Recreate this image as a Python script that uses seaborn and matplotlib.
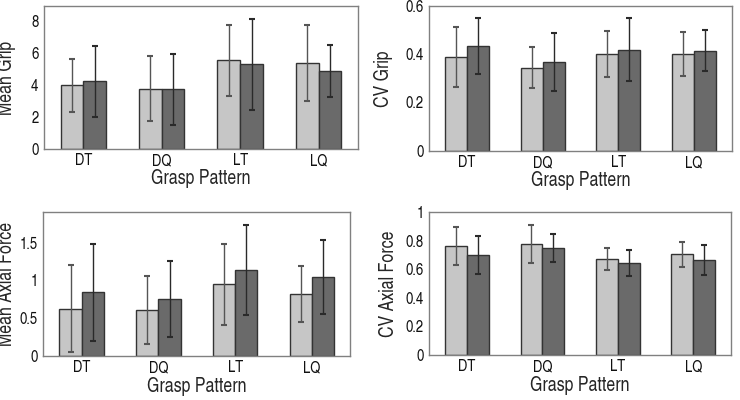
import numpy as np
import pandas as pd
import matplotlib
matplotlib.use('Agg')
import matplotlib.pyplot as plt
import seaborn as sns

patterns = ['DT', 'DQ', 'LT', 'LQ']
groups = ['Group 1', 'Group 2']

# mean / sd per pattern, for the two groups
meanGrip1 = [3.98, 3.77, 5.55, 5.38]
meanGrip2 = [4.23, 3.73, 5.30, 4.90]
meanGripSd1 = [1.69, 2.03, 2.23, 2.38]
meanGripSd2 = [2.23, 2.21, 2.85, 1.64]

cvGrip1 = [0.389, 0.344, 0.400, 0.401]
cvGrip2 = [0.433, 0.367, 0.418, 0.415]
cvGripSd1 = [0.123, 0.085, 0.094, 0.090]
cvGripSd2 = [0.115, 0.120, 0.130, 0.083]

meanAxial1 = [0.626, 0.613, 0.948, 0.825]
meanAxial2 = [0.843, 0.754, 1.142, 1.045]
meanAxialSd1 = [0.575, 0.450, 0.540, 0.370]
meanAxialSd2 = [0.645, 0.507, 0.594, 0.485]

cvAxial1 = [0.762, 0.776, 0.669, 0.704]
cvAxial2 = [0.699, 0.748, 0.641, 0.662]
cvAxialSd1 = [0.133, 0.136, 0.078, 0.089]
cvAxialSd2 = [0.132, 0.099, 0.090, 0.105]

sns.set_style('white')
plt.rcParams['font.family'] = ['TeX Gyre Heros Cn', 'Nimbus Sans Narrow', 'Liberation Sans Narrow',
                               'Roboto Condensed', 'Archivo Narrow', 'DejaVu Sans']
plt.rcParams['font.size'] = 12


def makeFrame(vals1, vals2, sd1, sd2):
    rows = []
    for i, p in enumerate(patterns):
        rows.append([p, groups[0], vals1[i], sd1[i]])
        rows.append([p, groups[1], vals2[i], sd2[i]])
    return pd.DataFrame(rows, columns=['pattern', 'group', 'value', 'sd'])


def drawPanel(ax, df, ylabel, ymax, yticks, ticklabels, labelX):
    sns.barplot(data=df, x='pattern', y='value', hue='group', order=patterns,
                hue_order=groups, palette=['#c6c6c6', '#6a6a6a'], width=0.58,
                errorbar=None, edgecolor='#333333', linewidth=1, ax=ax, legend=False)
    errColors = ['#555555', '#2a2a2a']
    barSets = list(ax.containers)
    for k, cont in enumerate(barSets):
        sub = df[df['group'] == groups[k]].set_index('pattern').loc[patterns]
        xs = [b.get_x() + b.get_width() / 2 for b in cont]
        ax.errorbar(xs, sub['value'].values, yerr=sub['sd'].values, fmt='none',
                    ecolor=errColors[k], elinewidth=1, capsize=2.5, capthick=1.5)
    ax.set_xlim(-0.5, 3.5)
    ax.set_ylim(0, ymax)
    ax.set_yticks(yticks)
    ax.set_yticklabels(ticklabels)
    ax.set_ylabel(ylabel, fontsize=14)
    # label anchor is the right edge of the rotated text
    ax.yaxis.set_label_coords(labelX, 0.5)
    ax.set_xlabel('Grasp Pattern', fontsize=14, labelpad=1)
    ax.tick_params(length=0, labelsize=11.5, colors='#111111')
    ax.tick_params(axis='y', pad=4)
    ax.tick_params(axis='x', pad=3)
    for s in ax.spines.values():
        s.set_color('#808080')
        s.set_linewidth(1)


fig = plt.figure(figsize=(7.4, 4.0), dpi=100)
ax1 = fig.add_axes([0.0595, 0.628, 0.424, 0.357])
ax2 = fig.add_axes([0.580, 0.623, 0.409, 0.3625])
ax3 = fig.add_axes([0.0585, 0.110, 0.415, 0.359])
ax4 = fig.add_axes([0.580, 0.1125, 0.408, 0.3575])

drawPanel(ax1, makeFrame(meanGrip1, meanGrip2, meanGripSd1, meanGripSd2),
          'Mean Grip', 8.97, [0, 2, 4, 6, 8], ['0', '2', '4', '6', '8'], -0.089)
drawPanel(ax2, makeFrame(cvGrip1, cvGrip2, cvGripSd1, cvGripSd2),
          'CV Grip', 0.6, [0, 0.2, 0.4, 0.6], ['0', '0.2', '0.4', '0.6'], -0.120)
drawPanel(ax3, makeFrame(meanAxial1, meanAxial2, meanAxialSd1, meanAxialSd2),
          'Mean Axial Force', 1.9, [0, 0.5, 1, 1.5], ['0', '0.5', '1', '1.5'], -0.089)
drawPanel(ax4, makeFrame(cvAxial1, cvAxial2, cvAxialSd1, cvAxialSd2),
          'CV Axial Force', 1.0, [0, 0.2, 0.4, 0.6, 0.8, 1], ['0', '0.2', '0.4', '0.6', '0.8', '1'], -0.104)

fig.savefig('out.png', dpi=100)
